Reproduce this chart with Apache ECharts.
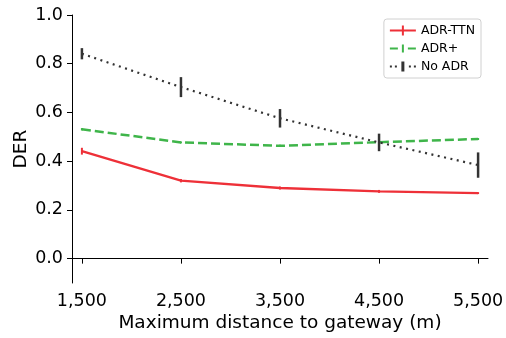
<!DOCTYPE html>
<html><head><meta charset="utf-8">
<script src="https://cdn.jsdelivr.net/npm/echarts@6/dist/echarts.min.js"></script>
<style>html,body{margin:0;padding:0;background:#fff}#c{width:506px;height:338px}</style>
</head><body><div id="c"></div>
<script>
const distances = [1500, 2500, 3500, 4500, 5500];
const xTicks = [1500, 2500, 3500, 4500, 5500];
const yTicks = [0.0, 0.2, 0.4, 0.6, 0.8, 1.0];
const adrTTN = [0.441, 0.320, 0.290, 0.276, 0.269];
const adrTTNErr = [0.014, 0.007, 0.006, 0.006, 0.004];
const adrPlus = [0.531, 0.477, 0.463, 0.478, 0.491];
const adrPlusErr = [0.005, 0.004, 0.004, 0.004, 0.004];
const noADR = [0.841, 0.704, 0.576, 0.477, 0.384];
const noADRErr = [0.023, 0.041, 0.038, 0.036, 0.052];

const RED = '#ee3038', GREEN = '#3fb54a', BLACK = '#333333';
const FONT = 'DejaVu Sans';

function lineData(vals){ return distances.map((d,i)=>[d, vals[i]]); }
function errData(vals, errs){ return distances.map((d,i)=>[d, vals[i]-errs[i], vals[i]+errs[i]]); }
function errSeries(name, vals, errs, color, width){
  return {
    name: name, type: 'custom', z: 5,
    itemStyle: {color: color},
    data: errData(vals, errs),
    renderItem: function(params, api){
      const p1 = api.coord([api.value(0), api.value(1)]);
      const p2 = api.coord([api.value(0), api.value(2)]);
      return {type:'line', shape:{x1:p1[0], y1:p1[1], x2:p2[0], y2:p2[1]},
        style:{stroke: color, lineWidth: width}};
    }
  };
}

const chart = echarts.init(document.getElementById('c'));
chart.setOption({
  animation: false,
  textStyle: {fontFamily: FONT},
  grid: {left: 72, top: 15, right: 18, bottom: 55, containLabel: false, outerBoundsMode: 'none'},
  legend: {
    orient: 'vertical', right: 25, top: 19,
    itemWidth: 26, itemHeight: 10, itemGap: 5,
    padding: [5, 6, 5, 6],
    borderColor: '#d0d0d0', borderWidth: 1, borderRadius: 3,
    textStyle: {fontFamily: FONT, fontSize: 12.5, color: '#000'},
    data: [
      {name: 'ADR-TTN', icon: 'path://M0,4 H26 V6 H0 Z M12,0 H14 V10 H12 Z'},
      {name: 'ADR+', icon: 'path://M0,4 H8 V6 H0 Z M18,4 H26 V6 H18 Z M12,1 H14 V9 H12 Z'},
      {name: 'No ADR', icon: 'path://M0,4 H2 V6 H0 Z M5,4 H7 V6 H5 Z M19,4 H21 V6 H19 Z M24,4 H26 V6 H24 Z M11.5,0 H14.5 V10 H11.5 Z'}
    ]
  },
  xAxis: {
    type: 'value', min: 1400, max: 5600,
    name: 'Maximum distance to gateway (m)', nameLocation: 'middle', nameGap: 31,
    nameMoveOverlap: false,
    nameTextStyle: {fontFamily: FONT, fontSize: 18.5, color: '#000'},
    axisLine: {show: true, lineStyle: {color: '#000', width: 1}},
    axisTick: {show: true, length: 5, inside: false, lineStyle: {color: '#000', width: 1}, customValues: xTicks},
    axisLabel: {fontFamily: FONT, fontSize: 17.5, color: '#000', margin: 9, customValues: xTicks,
      formatter: v => v.toLocaleString('en-US')},
    splitLine: {show: false}
  },
  yAxis: {
    type: 'value', min: -0.1, max: 1.0,
    name: 'DER', nameLocation: 'middle', nameGap: 41,
    nameMoveOverlap: false,
    nameTextStyle: {fontFamily: FONT, fontSize: 18.5, color: '#000'},
    axisLine: {show: true, lineStyle: {color: '#000', width: 1}},
    axisTick: {show: true, length: 5, lineStyle: {color: '#000', width: 1}, customValues: yTicks},
    axisLabel: {fontFamily: FONT, fontSize: 17.5, color: '#000', margin: 9, customValues: yTicks,
      formatter: v => v.toFixed(1)},
    splitLine: {show: false}
  },
  series: [
    {name: 'ADR-TTN line', type: 'line', data: lineData(adrTTN), showSymbol: false, symbol: 'none',
      lineStyle: {color: RED, width: 2.4}, itemStyle: {color: RED}, z: 3},
    {name: 'ADR+ line', type: 'line', data: lineData(adrPlus), showSymbol: false, symbol: 'none',
      lineStyle: {color: GREEN, width: 2.5, type: [9, 4]}, itemStyle: {color: GREEN}, z: 3},
    {name: 'No ADR line', type: 'line', data: lineData(noADR), showSymbol: false, symbol: 'none',
      lineStyle: {color: BLACK, width: 2.2, type: [2, 4.5]}, itemStyle: {color: BLACK}, z: 3},
    errSeries('ADR-TTN', adrTTN, adrTTNErr, RED, 2),
    errSeries('ADR+', adrPlus, adrPlusErr, GREEN, 2),
    errSeries('No ADR', noADR, noADRErr, BLACK, 2.5)
  ]
});
</script></body></html>
